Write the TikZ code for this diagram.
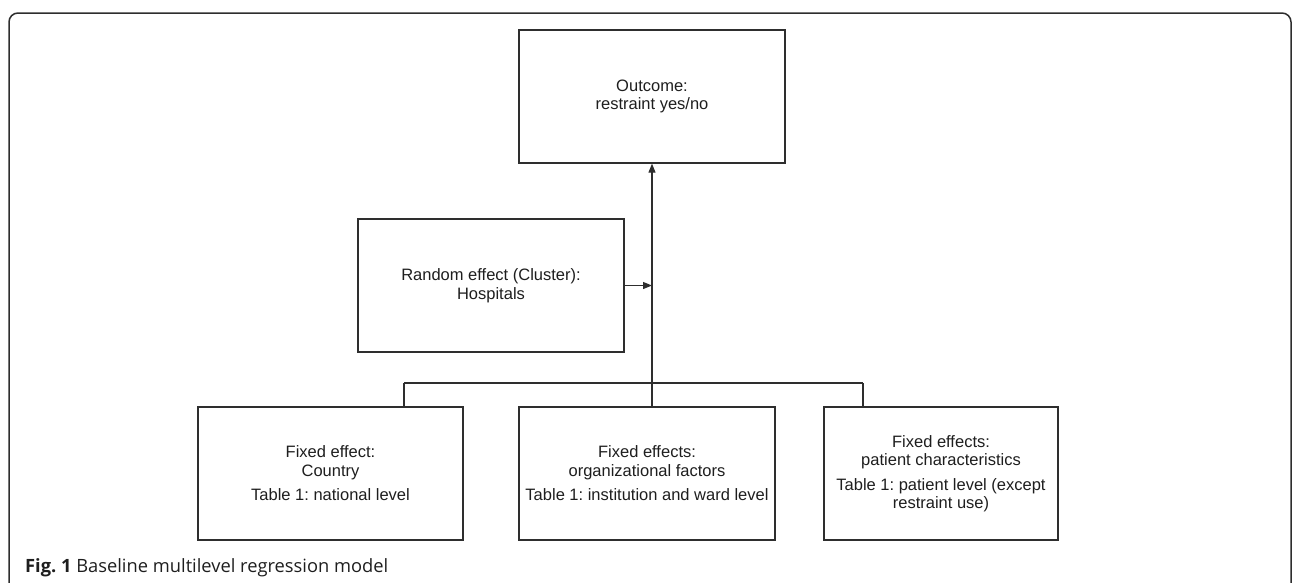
\documentclass[tikz,border=0pt]{standalone}
\usepackage{fontspec}
\setmainfont{Liberation Sans}
\newfontfamily\capfont{Open Sans}
\usepackage{xcolor}
\usetikzlibrary{arrows.meta,calc}
\frenchspacing

\definecolor{linegray}{HTML}{2E2E2E}
\definecolor{textgray}{HTML}{1E1E1E}

\begin{document}
\begin{tikzpicture}[
    x=1pt, y=-1pt,
    box/.style={draw=linegray, line width=1.3pt, minimum height=133pt, align=center,
                text=textgray, font=\fontsize{16.5}{18.5}\selectfont, inner sep=2pt},
    link/.style={draw=linegray, line width=1.1pt},
    arr/.style={link, -{Triangle[length=9pt, width=7pt]}}
]
    \useasboundingbox (0,0) rectangle (1292,582);

    % frame
    \draw[linegray, line width=1.5pt, rounded corners=9pt]
        (9,584) -- (9,13) -- (1291,13) -- (1291,584);

    % Outcome
    \node[box, minimum width=266pt] (outcome) at (652,96.5) {Outcome:\\restraint yes/no};

    % Random effect
    \node[box, minimum width=266pt] (random) at (491,285.5) {Random effect (Cluster):\\Hospitals};

    % Fixed effects
    \node[box, minimum width=265pt] (country) at (330.5,473.5)
        {Fixed effect:\\Country\\[6pt]Table 1: national level};
    \node[box, minimum width=256pt] (org) at (647,473.5)
        {Fixed effects:\\organizational factors\\[6pt]Table 1: institution and ward level};
    \node[box, minimum width=234pt] (patient) at (941,473.5)
        {Fixed effects:\\patient characteristics\\[6pt]Table 1: patient level (except\\restraint use)};

    % bus
    \coordinate (bus) at (outcome.south |- 0,383);
    \coordinate (busl) at (404,383);
    \coordinate (busr) at (863,383);
    \draw[link] (busl) -- (busr);
    \draw[link] (busl) -- (busl |- country.north);
    \draw[link] (bus) -- (bus |- org.north);
    \draw[link] (busr) -- (busr |- patient.north);

    % Connections
    \draw[arr] (bus) -- (outcome.south);
    \draw[arr] (random.east) -- (random.east -| outcome.south);

    % caption
    \node[anchor=base west, inner sep=0pt, text=textgray,
          font=\capfont\fontsize{18.3}{21}\selectfont] (caption) at (25,572)
        {\textbf{Fig. 1} Baseline multilevel regression model};
\end{tikzpicture}
\end{document}
